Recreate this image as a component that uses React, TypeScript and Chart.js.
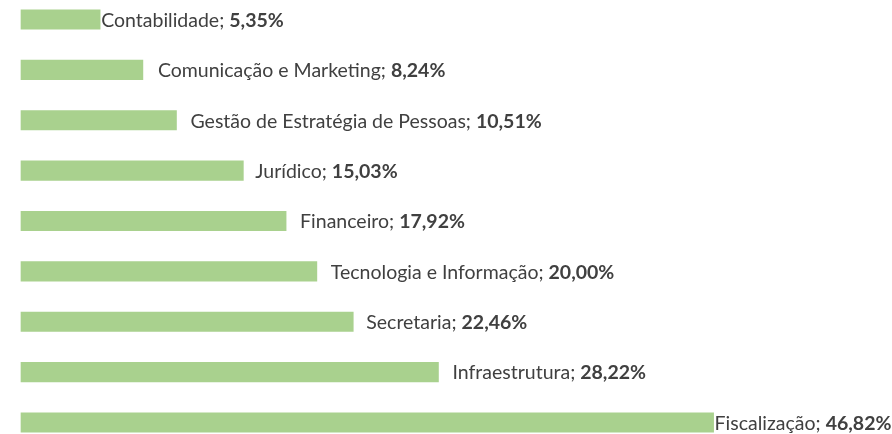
import React, { useEffect, useRef } from "react";
import { Chart, registerables } from "chart.js";

Chart.register(...registerables);

const categories = [
  "Contabilidade",
  "Comunicação e Marketing",
  "Gestão de Estratégia de Pessoas",
  "Jurídico",
  "Financeiro",
  "Tecnologia e Informação",
  "Secretaria",
  "Infraestrutura",
  "Fiscalização",
];
const values = [5.35, 8.24, 10.51, 15.03, 17.92, 20.0, 22.46, 28.22, 46.82];

// label gap after each bar end (style)
const labelGaps = [1, 15, 14, 12, 14, 14, 13, 14, 1];

const FONT = "Lato, 'Liberation Sans', sans-serif";
const FONT_SIZE = 19.5;
const TEXT_COLOR = "#404040";

const labelPlugin = {
  id: "barLabels",
  afterDatasetsDraw(chart: any) {
    const ctx = chart.ctx;
    const meta = chart.getDatasetMeta(0);
    ctx.save();
    ctx.textBaseline = "middle";
    ctx.fillStyle = TEXT_COLOR;
    meta.data.forEach((bar: any, i: number) => {
      const name = categories[i] + "; ";
      const val = values[i].toFixed(2).replace(".", ",") + "%";
      let x = bar.x + labelGaps[i];
      const y = bar.y + 1;
      ctx.font = `normal ${FONT_SIZE}px ${FONT}`;
      ctx.fillText(name, x, y);
      x += ctx.measureText(name).width;
      ctx.font = `bold ${FONT_SIZE}px ${FONT}`;
      ctx.fillText(val, x, y);
    });
    ctx.restore();
  },
};

export default function App() {
  const ref = useRef<HTMLCanvasElement>(null);
  useEffect(() => {
    const chart = new Chart(ref.current as HTMLCanvasElement, {
      type: "bar",
      data: {
        labels: categories,
        datasets: [
          {
            data: values,
            backgroundColor: "#A9D18E",
            borderWidth: 0,
            barThickness: 19.5,
            clip: false as any,
          },
        ],
      },
      options: {
        indexAxis: "y",
        animation: false,
        responsive: false,
        maintainAspectRatio: false,
        layout: { padding: { left: 21, right: 13, top: 19.5, bottom: 11.5 } },
        scales: {
          x: { display: false, min: 0, max: 58 },
          y: { display: false, offset: false },
        },
        plugins: {
          legend: { display: false },
          tooltip: { enabled: false },
        },
      },
      plugins: [labelPlugin],
    });
    return () => chart.destroy();
  }, []);
  return (
    <div style={{ position: "fixed", left: 0, top: 0, width: 892, height: 434, background: "#fff" }}>
      <canvas ref={ref} width={892} height={434} style={{ display: "block" }} />
    </div>
  );
}
